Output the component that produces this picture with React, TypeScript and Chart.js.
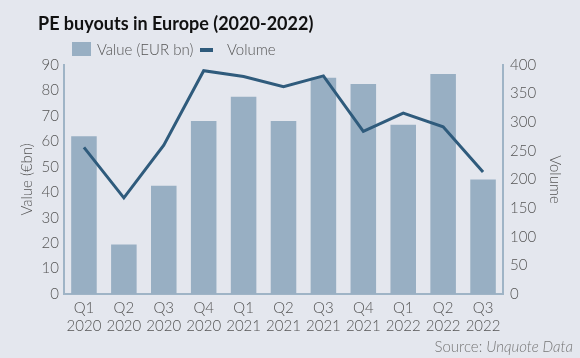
import React, { useEffect, useRef } from "react";
import { Chart, registerables } from "chart.js";

Chart.register(...registerables);

const quarters = ["Q1", "Q2", "Q3", "Q4", "Q1", "Q2", "Q3", "Q4", "Q1", "Q2", "Q3"];
const years = ["2020", "2020", "2020", "2020", "2021", "2021", "2021", "2021", "2022", "2022", "2022"];
const valueEURbn = [62, 19.5, 42.5, 68, 77.5, 68, 85, 82.5, 66.5, 86.5, 45];
const volume = [256, 168, 260, 390, 380, 362, 381, 284, 316, 292, 213];
const valueTicks = [0, 10, 20, 30, 40, 50, 60, 70, 80, 90];
const volumeTicks = [0, 50, 100, 150, 200, 250, 300, 350, 400];

const BG = "#e4e7ee";
const BAR = "#98afc3";
const LINE = "#2f5b7c";
const AXIS = "#9fb4c6";
const TICK = "#555555";
const FONT = "Lato, 'Open Sans', sans-serif";

export default function App() {
  const ref = useRef<HTMLCanvasElement | null>(null);

  useEffect(() => {
    if (!ref.current) return;
    const labels = quarters.map((q, i) => [q, years[i]]);
    const chart = new Chart(ref.current, {
      data: {
        labels,
        datasets: [
          {
            type: "line",
            label: "Volume",
            data: volume,
            yAxisID: "y1",
            borderColor: LINE,
            borderWidth: 3,
            pointRadius: 0,
            tension: 0,
            order: 0,
          },
          {
            type: "bar",
            label: "Value (EUR bn)",
            data: valueEURbn,
            yAxisID: "y",
            backgroundColor: BAR,
            categoryPercentage: 1,
            barPercentage: 0.64,
            order: 1,
          },
        ],
      } as any,
      options: {
        animation: false,
        responsive: false,
        maintainAspectRatio: false,
        layout: { padding: { top: 65, bottom: 0, left: 0, right: 0 } },
        plugins: {
          legend: { display: false },
          title: { display: false },
          tooltip: { enabled: false },
        },
        scales: {
          x: {
            grid: { display: false, drawTicks: false },
            border: { display: true, color: AXIS, width: 2 },
            ticks: {
              color: TICK,
              font: { family: FONT, size: 15, weight: "300" },
              padding: 5,
              maxRotation: 0,
              autoSkip: false,
            },
            afterFit: (s: any) => {
              s.height = 64;
            },
          },
          y: {
            position: "left",
            min: 0,
            max: 90,
            afterBuildTicks: (s: any) => {
              s.ticks = valueTicks.map((v) => ({ value: v }));
            },
            grid: { display: false, drawTicks: false },
            border: { display: true, color: AXIS, width: 2 },
            ticks: {
              color: TICK,
              font: { family: FONT, size: 15, weight: "300" },
              padding: 5,
            },
            title: {
              display: true,
              text: "Value (€bn)",
              color: TICK,
              font: { family: FONT, size: 15, weight: "300" },
              padding: { top: 18, bottom: 0 },
            },
            afterFit: (s: any) => {
              s.width = 64;
            },
          },
          y1: {
            position: "right",
            min: 0,
            max: 400,
            afterBuildTicks: (s: any) => {
              s.ticks = volumeTicks.map((v) => ({ value: v }));
            },
            grid: { display: false, drawTicks: false },
            border: { display: true, color: AXIS, width: 2 },
            ticks: {
              color: TICK,
              font: { family: FONT, size: 15, weight: "300" },
              padding: 7,
            },
            title: {
              display: true,
              text: "Volume",
              color: TICK,
              font: { family: FONT, size: 15, weight: "300" },
              padding: { top: 16, bottom: 0 },
            },
            afterFit: (s: any) => {
              s.width = 77;
            },
          },
        },
      } as any,
    });
    return () => chart.destroy();
  }, []);

  const legendText: React.CSSProperties = {
    position: "absolute",
    top: 40,
    fontSize: 15,
    fontWeight: 300,
    color: TICK,
    lineHeight: "18px",
    whiteSpace: "nowrap",
  };

  return (
    <div
      style={{
        position: "fixed",
        left: 0,
        top: 0,
        width: 580,
        height: 358,
        background: BG,
        fontFamily: FONT,
        overflow: "hidden",
      }}
    >
      <canvas ref={ref} width={580} height={358} style={{ position: "absolute", left: 0, top: 0 }} />
      <div
        style={{
          position: "absolute",
          left: 38,
          top: 12,
          fontSize: 18,
          lineHeight: "22px",
          fontWeight: 700,
          color: "#111",
          whiteSpace: "nowrap",
        }}
      >
        PE buyouts in Europe (2020-2022)
      </div>
      <div style={{ position: "absolute", left: 72, top: 42, width: 19, height: 14, background: BAR }} />
      <div style={{ ...legendText, left: 97 }}>Value (EUR bn)</div>
      <div style={{ position: "absolute", left: 200, top: 48, width: 13, height: 4, background: LINE }} />
      <div style={{ ...legendText, left: 227 }}>Volume</div>
      <div
        style={{
          position: "absolute",
          right: 7,
          top: 337,
          fontSize: 15,
          fontWeight: 300,
          color: "#777777",
          lineHeight: "18px",
          whiteSpace: "nowrap",
        }}
      >
        Source: <span style={{ fontStyle: "italic" }}>Unquote Data</span>
      </div>
    </div>
  );
}
